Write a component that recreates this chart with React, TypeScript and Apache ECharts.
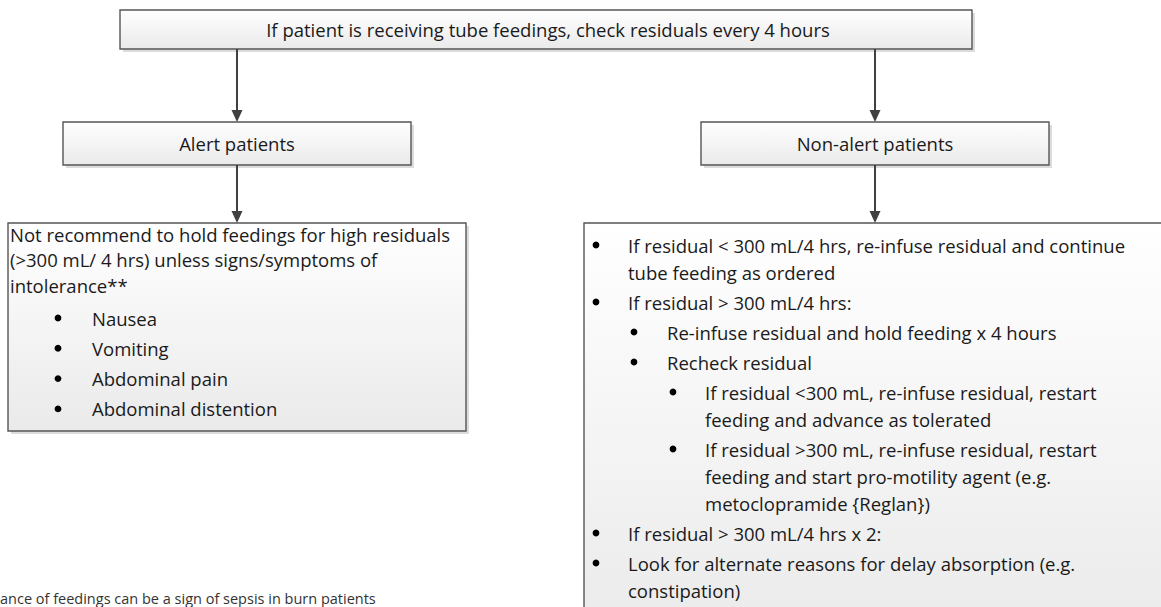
import React, { useEffect, useRef } from "react";
import * as echarts from "echarts";

const TOP_TEXT = "If patient is receiving tube feedings, check residuals every 4 hours";
const BRANCH_LABELS = ["Alert patients", "Non-alert patients"];
const ALERT_INTRO = [
  "Not recommend to hold feedings for high residuals",
  "(>300 mL/ 4 hrs) unless signs/symptoms of",
  "intolerance**",
];
const ALERT_SYMPTOMS = ["Nausea", "Vomiting", "Abdominal pain", "Abdominal distention"];
const NONALERT_LEVELS = [1, 1, 2, 2, 3, 3, 1, 1];
const NONALERT_ITEMS = [
  ["If residual < 300 mL/4 hrs, re-infuse residual and continue", "tube feeding as ordered"],
  ["If residual > 300 mL/4 hrs:"],
  ["Re-infuse residual and hold feeding x 4 hours"],
  ["Recheck residual"],
  ["If residual <300 mL, re-infuse residual, restart", "feeding and advance as tolerated"],
  ["If residual >300 mL, re-infuse residual, restart", "feeding and start pro-motility agent (e.g.", "metoclopramide {Reglan})"],
  ["If residual > 300 mL/4 hrs x 2:"],
  ["Look for alternate reasons for delay absorption (e.g.", "constipation)"],
];
// visible part of the footnote (its start lies outside the picture in the reference)
const FOOTNOTE = "ance of feedings can be a sign of sepsis in burn patients";

const FONT_FAMILY = "'Open Sans', Lato, sans-serif";
const FONT_SIZE = 18.5;
const TEXT_COLOR = "#1a1a1a";
const LINE_COLOR = "#404040";

function txt(x: number, y: number, text: string, align = "left", size = FONT_SIZE, color = TEXT_COLOR, vAlign = "middle") {
  return {
    type: "text",
    x,
    y,
    silent: true,
    style: {
      text,
      fontFamily: FONT_FAMILY,
      fontSize: size,
      lineHeight: Math.round(size * 1.12),
      fill: color,
      align,
      verticalAlign: vAlign,
      textAlign: align,
      textVerticalAlign: vAlign,
    },
  };
}

function box(x: number, y: number, w: number, h: number) {
  return [
    { type: "rect", shape: { x: x + 3, y: y + 3, width: w, height: h }, style: { fill: "#dcdcdc" } },
    {
      type: "rect",
      shape: { x, y, width: w, height: h },
      style: {
        fill: new echarts.graphic.LinearGradient(0, 0, 0, 1, [
          { offset: 0, color: "#ffffff" },
          { offset: 1, color: "#eaeaea" },
        ]),
        stroke: "#555555",
        lineWidth: 1.4,
      },
    },
  ];
}

function arrow(x: number, y1: number, y2: number) {
  return [
    { type: "line", shape: { x1: x, y1, x2: x, y2: y2 - 10 }, style: { stroke: LINE_COLOR, lineWidth: 2 } },
    {
      type: "polygon",
      shape: { points: [[x - 5.5, y2 - 12], [x + 5.5, y2 - 12], [x, y2]] },
      style: { fill: LINE_COLOR },
    },
  ];
}

function bullet(x: number, y: number) {
  return { type: "circle", shape: { cx: x, cy: y, r: 3.4 }, style: { fill: "#000" } };
}

function buildElements() {
  const els: any[] = [];
  // top box
  els.push(...box(120, 10, 852, 39));
  els.push(txt(548, 29.5, TOP_TEXT, "center"));
  // arrows to branches
  els.push(...arrow(237, 49, 122));
  els.push(...arrow(875, 49, 122));
  // branch boxes
  els.push(...box(63, 122, 348, 43));
  els.push(txt(237, 143.5, BRANCH_LABELS[0], "center"));
  els.push(...box(701, 122, 348, 43));
  els.push(txt(875, 143.5, BRANCH_LABELS[1], "center"));
  // arrows to detail boxes
  els.push(...arrow(237, 165, 223));
  els.push(...arrow(875, 165, 223));
  // left detail box
  els.push(...box(8, 223, 458, 208));
  let y = 234;
  ALERT_INTRO.forEach((t) => {
    els.push(txt(10, y, t));
    y += 25.5;
  });
  y = 318;
  ALERT_SYMPTOMS.forEach((t) => {
    els.push(bullet(58, y));
    els.push(txt(92, y, t));
    y += 30.3;
  });
  // right detail box
  els.push(...box(584, 223, 600, 420));
  const bulletX = [0, 596, 634, 673];
  const textX = [0, 628, 667, 705];
  y = 245;
  NONALERT_ITEMS.forEach((lines, i) => {
    const lvl = NONALERT_LEVELS[i];
    els.push(bullet(bulletX[lvl], y));
    lines.forEach((t, j) => {
      if (j > 0) y += 27;
      els.push(txt(textX[lvl], y, t));
    });
    y += 30;
  });
  // footnote
  els.push(txt(0, 606, FOOTNOTE, "left", 14.5, "#333333", "bottom"));
  return els;
}

export default function App() {
  const ref = useRef<HTMLDivElement>(null);
  useEffect(() => {
    if (!ref.current) return;
    const chart = echarts.init(ref.current, null, { renderer: "svg" });
    chart.setOption({
      animation: false,
      backgroundColor: "#ffffff",
      graphic: { elements: buildElements() },
    });
    return () => chart.dispose();
  }, []);
  return (
    <div
      ref={ref}
      style={{ position: "absolute", left: 0, top: 0, width: 1161, height: 607, background: "#fff" }}
    />
  );
}
